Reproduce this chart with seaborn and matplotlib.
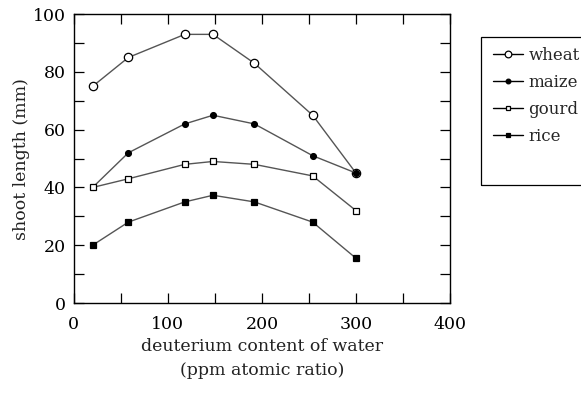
import numpy as np
import pandas as pd
import matplotlib
matplotlib.use("Agg")
import matplotlib.pyplot as plt
import seaborn as sns
from matplotlib.ticker import MultipleLocator
from matplotlib.patches import Rectangle

# dados
deuterio = [20, 58, 118, 148, 192, 254, 300]
trigo = [75, 85, 93, 93, 83, 65, 45]
milho = [40, 52, 62, 65, 62, 51, 45]
abobora = [40, 43, 48, 49, 48, 44, 32]
arroz = [20, 28, 35, 37.3, 35, 28, 15.5]

series = ["wheat", "maize", "gourd", "rice"]
valores = [trigo, milho, abobora, arroz]

sns.set_theme(style="ticks")
plt.rcParams["font.family"] = ["DejaVu Serif"]
plt.rcParams["mathtext.fontset"] = "dejavuserif"

fig = plt.figure(figsize=(5.81, 3.93), dpi=100)
ax = fig.add_axes([0.127, 0.229, 0.6475, 0.735])

estilos = {
    "wheat": dict(marker="o", mfc="white", ms=6),
    "maize": dict(marker="o", mfc="black", ms=4.2),
    "gourd": dict(marker="s", mfc="white", ms=4),
    "rice": dict(marker="s", mfc="black", ms=4.4),
}

for nome, vals in zip(series, valores):
    df = pd.DataFrame({"x": deuterio, "y": vals})
    e = estilos[nome]
    sns.lineplot(data=df, x="x", y="y", ax=ax, color="#555555", lw=1,
                 marker=e["marker"], markersize=e["ms"], markerfacecolor=e["mfc"],
                 markeredgecolor="black", markeredgewidth=0.9, label=nome)

ax.set_xlim(0, 400)
ax.set_ylim(0, 100)
ax.xaxis.set_major_locator(MultipleLocator(100))
ax.xaxis.set_minor_locator(MultipleLocator(50))
ax.yaxis.set_major_locator(MultipleLocator(20))
ax.yaxis.set_minor_locator(MultipleLocator(10))
ax.tick_params(which="both", direction="in", top=True, right=True,
               labelsize=12.5, colors="black", width=0.9, length=7)
ax.tick_params(axis="x", pad=9)
ax.tick_params(axis="y", pad=6)
for s in ax.spines.values():
    s.set_color("black")
    s.set_linewidth(1)

ax.set_xlabel("deuterium content of water\n(ppm atomic ratio)", fontsize=12.5,
              color="#222222", linespacing=1.5, labelpad=4)
ax.set_ylabel("shoot length (mm)", fontsize=12.5, color="#222222", labelpad=2)

# caixa da legenda (cortada na borda direita, como no original)
fig.patches.append(Rectangle((481 / 581, 1 - 185 / 393), 0.3, 148 / 393,
                             transform=fig.transFigure, fill=False,
                             edgecolor="black", lw=0.9, clip_on=False))

leg = ax.legend(loc="upper left", bbox_to_anchor=(490 / 581, 1 - 44 / 393),
                bbox_transform=fig.transFigure, fontsize=12,
                handlelength=1.75, handletextpad=0.35, labelspacing=0.6,
                borderpad=0.2, borderaxespad=0, frameon=False, markerscale=0.8)
for h in leg.get_lines():
    h.set_color("black")

fig.savefig("out.png", dpi=100)
